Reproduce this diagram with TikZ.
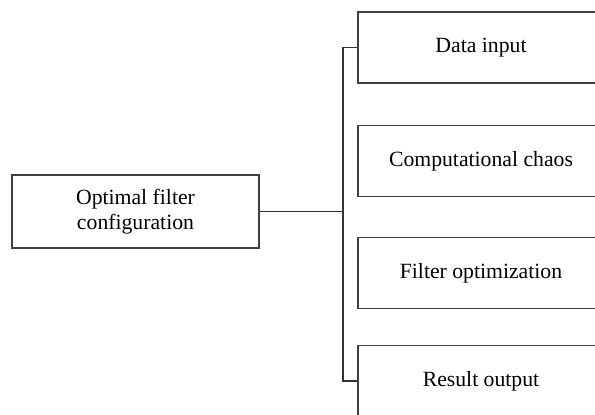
\documentclass[tikz,border=0pt]{standalone}
\usepackage{fontspec}
\setmainfont{Liberation Serif}
\usepackage{xcolor}

\begin{document}
\begin{tikzpicture}[x=1bp, y=-1bp,
  box/.style={draw=black!75, line width=1.1bp, rectangle, minimum width=246bp, minimum height=71bp, inner sep=0pt, align=center, font=\fontsize{21.8}{24.5}\selectfont},
  link/.style={draw=black!80, line width=1.1bp}]
\useasboundingbox (0,0) rectangle (595,414);
\clip (0,0) rectangle (595,414);
\node[box, minimum width=247bp, minimum height=73bp] (opt) at (135.5,211.5) {Optimal filter\\configuration};
\node[box] (input) at (481,47.5) {Data input};
\node[box] (chaos) at (481,161) {Computational chaos};
\node[box] (filter) at (481,273) {Filter optimization};
\node[box] (output) at (481,381) {Result output};

\coordinate (bustop) at (343,47.5);
\coordinate (busbot) at (343,381);
\draw[link] (input.west) -- (bustop) -- (busbot) -- (output.west);
\draw[link] (opt.east) -- (opt.east -| bustop);
\end{tikzpicture}
\end{document}
